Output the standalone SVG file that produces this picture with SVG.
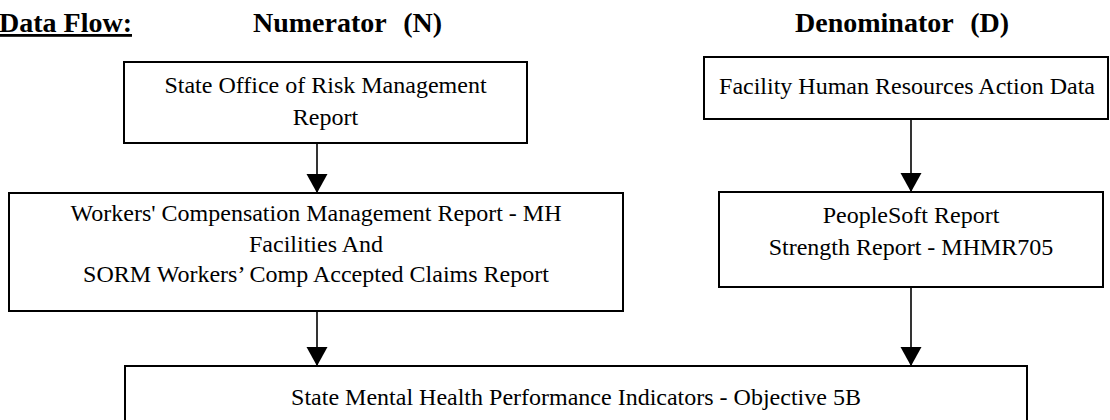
<svg xmlns="http://www.w3.org/2000/svg" width="1110" height="420" viewBox="0 0 1110 420">
  <style>
    .box { fill: #ffffff; stroke: #000000; stroke-width: 2; }
    .t { font-family: "Liberation Serif", "Times New Roman", serif; font-size: 24px; fill: #000000; text-anchor: middle; }
    .h { font-family: "Liberation Serif", "Times New Roman", serif; font-size: 28px; font-weight: bold; fill: #000000; white-space: pre; }
    .wide { word-spacing: 1.5px; }
    .conn { stroke: #000000; stroke-width: 1.6; fill: none; marker-end: url(#arrow); }
  </style>
  <defs>
    <marker id="arrow" markerUnits="userSpaceOnUse" markerWidth="22" markerHeight="22" refX="19" refY="10.5" orient="auto">
      <path d="M0,0 L19,10.5 L0,21 Z" fill="#000000"/>
    </marker>
  </defs>
  <rect width="1110" height="420" fill="#ffffff"/>

  <g id="headings">
    <text class="h" x="-1" y="32" text-decoration="underline">Data Flow:</text>
    <text class="h wide" x="253" y="32">Numerator  (N)</text>
    <text class="h wide" x="795" y="32">Denominator  (D)</text>
  </g>

  <g id="connectors">
    <line class="conn" x1="317" y1="143" x2="317" y2="193"/>
    <line class="conn" x1="911" y1="119" x2="911" y2="192"/>
    <line class="conn" x1="317" y1="311" x2="317" y2="366"/>
    <line class="conn" x1="911" y1="287" x2="911" y2="366"/>
  </g>

  <g id="node-sorm">
    <rect class="box" x="124" y="62" width="403" height="81"/>
    <text class="t" x="325.5" y="93">State Office of Risk Management</text>
    <text class="t" x="325.5" y="125">Report</text>
  </g>

  <g id="node-facility">
    <rect class="box" x="704" y="57" width="404" height="62"/>
    <text class="t" x="907" y="94">Facility Human Resources Action Data</text>
  </g>

  <g id="node-workers">
    <rect class="box" x="9" y="193" width="614" height="118"/>
    <text class="t" x="316" y="221">Workers' Compensation Management Report - MH</text>
    <text class="t" x="316" y="252">Facilities And</text>
    <text class="t" x="316" y="282">SORM Workers’ Comp Accepted Claims Report</text>
  </g>

  <g id="node-peoplesoft">
    <rect class="box" x="719" y="192" width="384" height="95"/>
    <text class="t" x="911" y="223">PeopleSoft Report</text>
    <text class="t" x="911" y="255">Strength Report - MHMR705</text>
  </g>

  <g id="node-indicators">
    <rect class="box" x="125" y="366" width="902" height="60"/>
    <text class="t" x="576" y="405">State Mental Health Performance Indicators - Objective 5B</text>
  </g>
</svg>
